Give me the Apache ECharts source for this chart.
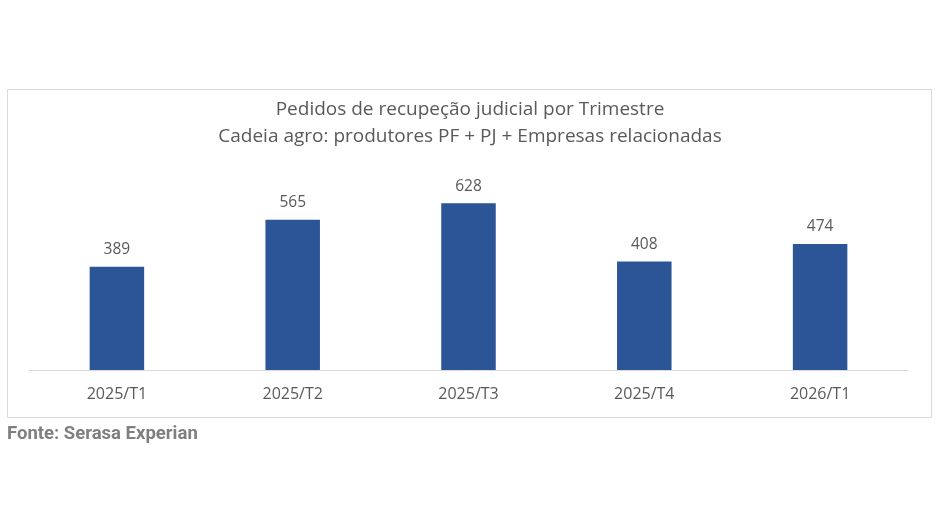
<!DOCTYPE html>
<html>
<head>
<meta charset="utf-8">
<script src="https://cdn.jsdelivr.net/npm/echarts@6/dist/echarts.min.js"></script>
<style>
  html, body { margin: 0; padding: 0; background: #fff; }
  #chart { width: 940px; height: 530px; }
</style>
</head>
<body>
<div id="chart"></div>
<script>
// dados por trimestre
var trimestres = ['2025/T1', '2025/T2', '2025/T3', '2025/T4', '2026/T1'];
var pedidos = [389, 565, 628, 408, 474];

var myChart = echarts.init(document.getElementById('chart'));

var option = {
  animation: false,
  title: {
    text: 'Pedidos de recupeção judicial por Trimestre\nCadeia agro: produtores PF + PJ + Empresas relacionadas',
    left: 'center',
    top: 91,
    textStyle: {
      color: '#595959',
      fontFamily: 'Open Sans',
      fontWeight: 'normal',
      fontSize: 19,
      lineHeight: 27
    }
  },
  graphic: [{
    type: 'rect',
    shape: { x: 7.5, y: 89.5, width: 924, height: 328 },
    style: { fill: 'none', stroke: '#d9d9d9', lineWidth: 1 },
    z: -1
  }, {
    type: 'text',
    left: 7,
    top: 425,
    style: {
      text: 'Fonte: Serasa Experian',
      fill: '#7f7f7f',
      font: 'bold 18.5px Roboto'
    }
  }],
  grid: {
    left: 29,
    right: 32,
    top: 184,
    bottom: 160
  },
  xAxis: {
    type: 'category',
    data: trimestres,
    axisLine: { lineStyle: { color: '#d9d9d9' } },
    axisTick: { show: false },
    axisLabel: {
      color: '#595959',
      fontFamily: 'Open Sans',
      fontSize: 16,
      margin: 16
    }
  },
  yAxis: {
    type: 'value',
    min: 0,
    max: 700,
    show: false,
    splitLine: { show: false }
  },
  series: [{
    type: 'bar',
    data: pedidos,
    barWidth: '31%',
    itemStyle: { color: '#2B5597' },
    label: {
      show: true,
      position: 'top',
      distance: 9,
      color: '#595959',
      fontFamily: 'Open Sans',
      fontSize: 15.5
    }
  }]
};

myChart.setOption(option);
</script>
</body>
</html>
